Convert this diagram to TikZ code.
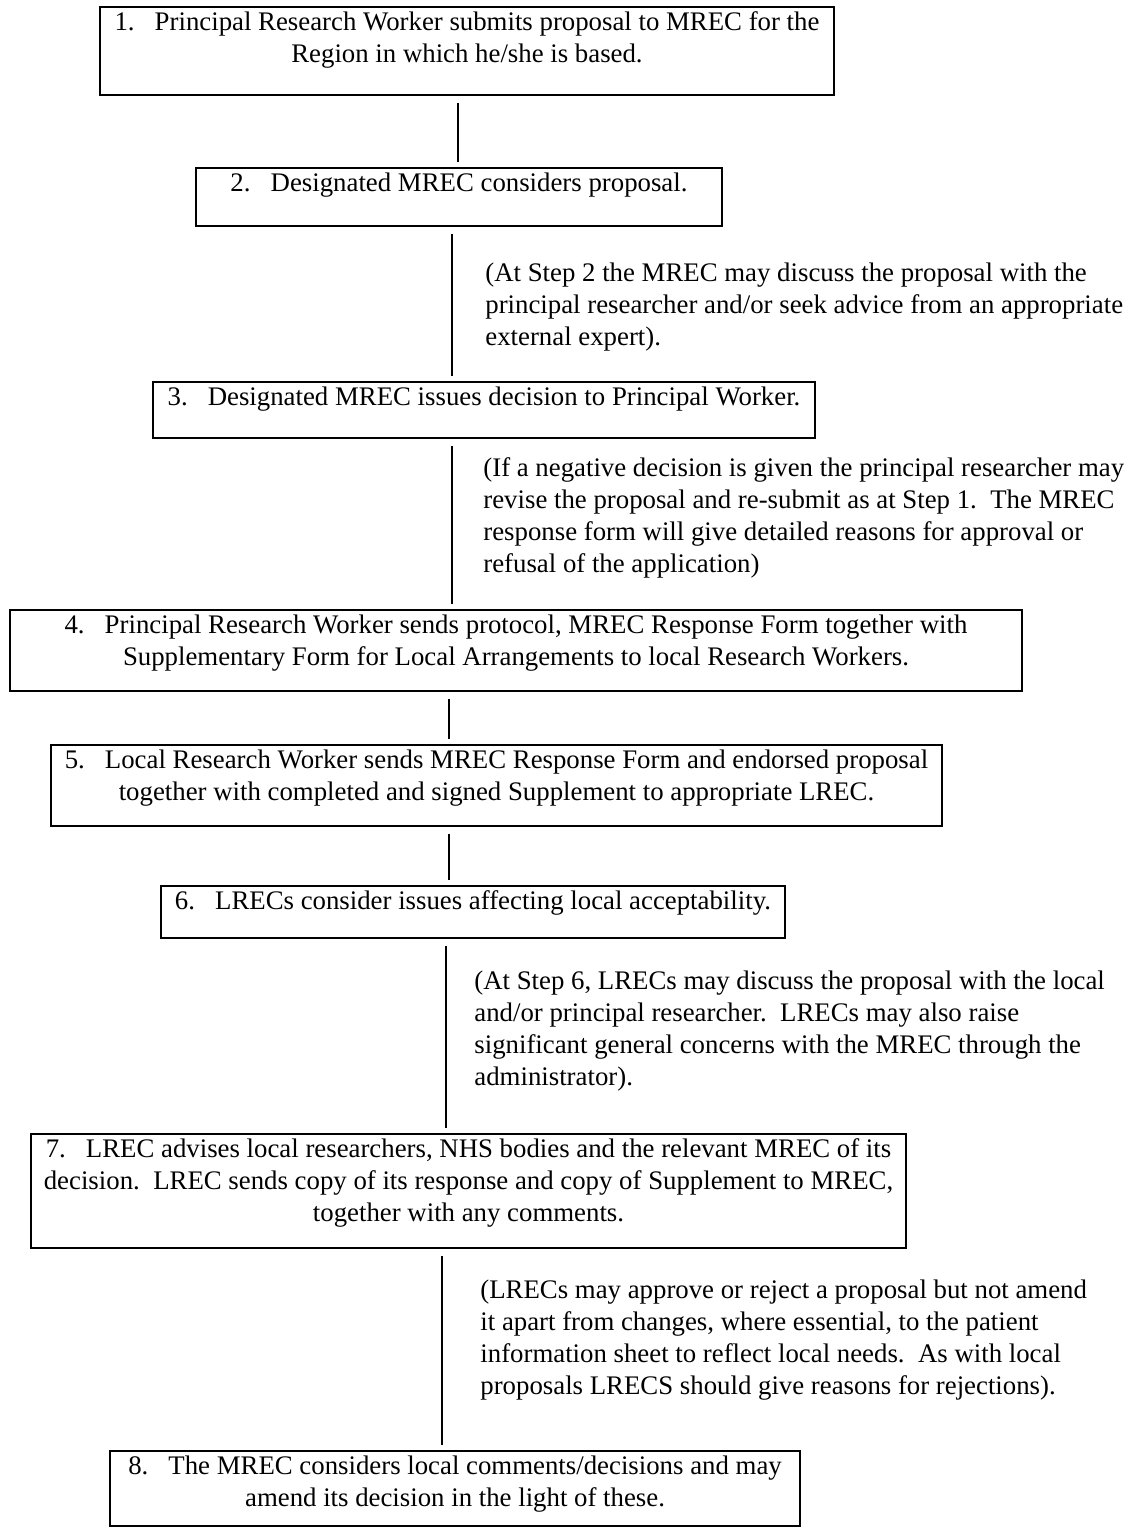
\documentclass[tikz,border=0pt]{standalone}
\usepackage{fontspec}
\setmainfont{Liberation Serif}
\newcommand\tf{\fontsize{13.4}{15.9}\selectfont}
\begin{document}
\begin{tikzpicture}[x=0.5pt,y=-0.5pt,
  stepbox/.style={draw=black, line width=1.35pt, rectangle, inner sep=0pt},
  boxtext/.style={font=\tf, align=center, inner sep=0pt, anchor=north},
  notetext/.style={font=\tf, align=left, inner sep=0pt, anchor=north west},
  conn/.style={draw=black, line width=1.35pt, shorten <=3.5pt, shorten >=2.5pt}]
\path[use as bounding box, fill=white] (0,0) rectangle (1136,1528);

% boxes
\node[stepbox, minimum width=367pt, minimum height=44pt] (b1) at (467,51) {};
\node[stepbox, minimum width=263pt, minimum height=29pt] (b2) at (459,197) {};
\node[stepbox, minimum width=331pt, minimum height=28pt] (b3) at (484,410) {};
\node[stepbox, minimum width=506pt, minimum height=40.5pt] (b4) at (516,650.5) {};
\node[stepbox, minimum width=445.5pt, minimum height=40.5pt] (b5) at (496.5,785.5) {};
\node[stepbox, minimum width=312pt, minimum height=26pt] (b6) at (473,912) {};
\node[stepbox, minimum width=437.5pt, minimum height=57pt] (b7) at (468.5,1191) {};
\node[stepbox, minimum width=345pt, minimum height=37.5pt] (b8) at (455,1488.5) {};

% box texts
\node[boxtext] (t1) at ([yshift=-1.25pt]b1.north) {\strut 1.\hspace{0.75em}Principal Research Worker submits proposal to MREC for the\\ Region in which he/she is based.};
\node[boxtext] (t2) at ([yshift=-1.25pt]b2.north) {\strut 2.\hspace{0.75em}Designated MREC considers proposal.};
\node[boxtext] (t3) at ([yshift=-1.25pt]b3.north) {\strut 3.\hspace{0.75em}Designated MREC issues decision to Principal Worker.};
\node[boxtext] (t4) at ([yshift=-1.25pt]b4.north) {\strut 4.\hspace{0.75em}Principal Research Worker sends protocol, MREC Response Form together with\\ Supplementary Form for Local Arrangements to local Research Workers.};
\node[boxtext] (t5) at ([yshift=-1.25pt]b5.north) {\strut 5.\hspace{0.75em}Local Research Worker sends MREC Response Form and endorsed proposal\\ together with completed and signed Supplement to appropriate LREC.};
\node[boxtext] (t6) at ([yshift=-1.25pt]b6.north) {\strut 6.\hspace{0.75em}LRECs consider issues affecting local acceptability.};
\node[boxtext] (t7) at ([yshift=-1.25pt]b7.north) {\strut 7.\hspace{0.75em}LREC advises local researchers, NHS bodies and the relevant MREC of its\\ decision.\enspace LREC sends copy of its response and copy of Supplement to MREC,\\ together with any comments.};
\node[boxtext] (t8) at ([yshift=-1.25pt]b8.north) {\strut 8.\hspace{0.75em}The MREC considers local comments/decisions and may\\ amend its decision in the light of these.};

% notes
\node[notetext] (n2) at (485,259) {\strut (At Step 2 the MREC may discuss the proposal with the\\ principal researcher and/or seek advice from an appropriate\\ external expert).};
\node[notetext] (n3) at (483,454) {\strut (If a negative decision is given the principal researcher may\\ revise the proposal and re-submit as at Step 1.\enspace The MREC\\ response form will give detailed reasons for approval or\\ refusal of the application)};
\node[notetext] (n6) at (474,967) {\strut (At Step 6, LRECs may discuss the proposal with the local\\ and/or principal researcher.\enspace LRECs may also raise\\ significant general concerns with the MREC through the\\ administrator).};
\node[notetext] (n7) at (480,1276) {\strut (LRECs may approve or reject a proposal but not amend\\ it apart from changes, where essential, to the patient\\ information sheet to reflect local needs.\enspace As with local\\ proposals LRECS should give reasons for rejections).};

% connector columns
\coordinate (x1) at (458,0);
\coordinate (x2) at (452,0);
\coordinate (x3) at (452,0);
\coordinate (x4) at (449,0);
\coordinate (x5) at (449,0);
\coordinate (x6) at (446,0);
\coordinate (x7) at (442,0);

\draw[conn] (x1 |- b1.south) -- (x1 |- b2.north);
\draw[conn] (x2 |- b2.south) -- (x2 |- b3.north);
\draw[conn] (x3 |- b3.south) -- (x3 |- b4.north);
\draw[conn] (x4 |- b4.south) -- (x4 |- b5.north);
\draw[conn] (x5 |- b5.south) -- (x5 |- b6.north);
\draw[conn] (x6 |- b6.south) -- (x6 |- b7.north);
\draw[conn] (x7 |- b7.south) -- (x7 |- b8.north);
\end{tikzpicture}
\end{document}
